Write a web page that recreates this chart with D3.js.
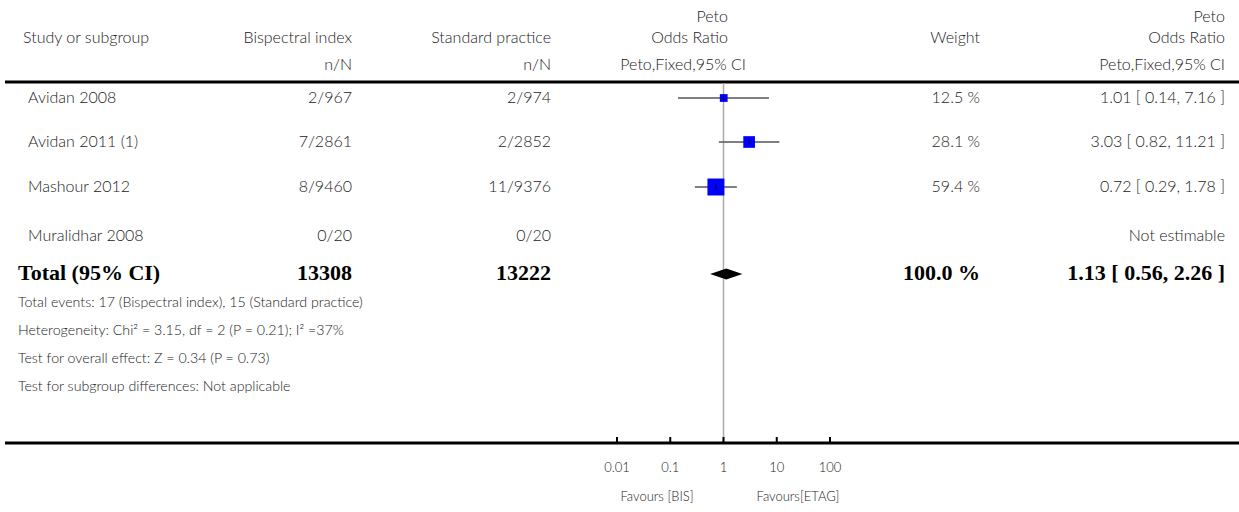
<!DOCTYPE html>
<html>
<head>
<meta charset="utf-8">
<script src="https://cdn.jsdelivr.net/npm/d3@7"></script>
<style>
  html, body { margin: 0; padding: 0; background: #fff; }
  svg { display: block; }
  .t { font-family: Lato, "Open Sans", sans-serif; font-size: 16px; font-weight: 300; fill: #222; }
  .f { font-family: Lato, "Open Sans", sans-serif; font-size: 14.2px; font-weight: 300; fill: #222; }
  .a { font-family: Lato, "Open Sans", sans-serif; font-size: 13px; font-weight: 300; fill: #222; }
  .b { font-family: "Liberation Serif", "Times New Roman", serif; font-size: 22px; font-weight: bold; fill: #000; }
</style>
</head>
<body>
<svg id="chart" width="1239" height="512"></svg>
<script>
// Study rows
const studies = ["Avidan 2008", "Avidan 2011 (1)", "Mashour 2012", "Muralidhar 2008"];
const bisEvents = [2, 7, 8, 0];
const bisTotal = [967, 2861, 9460, 20];
const stdEvents = [2, 2, 11, 0];
const stdTotal = [974, 2852, 9376, 20];
const oddsRatio = [1.01, 3.03, 0.72, null];
const ciLow = [0.14, 0.82, 0.29, null];
const ciHigh = [7.16, 11.21, 1.78, null];
const weights = [12.5, 28.1, 59.4, null];

// Pooled result
const totalBis = 13308;
const totalStd = 13222;
const totalWeight = 100.0;
const totalOR = 1.13;
const totalLow = 0.56;
const totalHigh = 2.26;

// Axis
const tickValues = [0.01, 0.1, 1, 10, 100];
const tickLabels = ["0.01", "0.1", "1", "10", "100"];
const favourLabels = ["Favours [BIS]", "Favours[ETAG]"];

const footnotes = [
  "Total events: 17 (Bispectral index), 15 (Standard practice)",
  "Heterogeneity: Chi\u00B2 = 3.15, df = 2 (P = 0.21); I\u00B2 =37%",
  "Test for overall effect: Z = 0.34 (P = 0.73)",
  "Test for subgroup differences: Not applicable"
];

const svg = d3.select("#chart");

// column anchors
const colName = 28, colBis = 352, colStd = 551, colWeight = 980, colCI = 1225;
const rowY = [98, 142, 187, 236];
const totalY = 274;
const topRule = 82, axisY = 443;

const x = d3.scaleLog().domain([0.01, 100]).range([617, 830]);
const boxSize = d3.scaleSqrt().domain([0, 100]).range([0, 22]);

function text(s, xx, yy, anchor, cls) {
  return svg.append("text").attr("class", cls || "t")
    .attr("x", xx).attr("y", yy).attr("text-anchor", anchor || "start").text(s);
}

// header
text("Study or subgroup", 23, 43);
text("Bispectral index", colBis, 43, "end");
text("n/N", colBis, 70, "end");
text("Standard practice", colStd, 43, "end");
text("n/N", colStd, 70, "end");
text("Peto", 728, 22, "end");
text("Odds Ratio", 728, 43, "end");
text("Peto,Fixed,95% CI", 746, 70, "end");
text("Weight", colWeight, 43, "end");
text("Peto", colCI, 22, "end");
text("Odds Ratio", colCI, 43, "end");
text("Peto,Fixed,95% CI", colCI, 70, "end");

// rules
svg.append("line").attr("x1", 5).attr("x2", 1239).attr("y1", topRule).attr("y2", topRule)
  .attr("stroke", "#000").attr("stroke-width", 3);

// line of no effect
svg.append("line").attr("x1", x(1)).attr("x2", x(1)).attr("y1", topRule + 1).attr("y2", axisY)
  .attr("stroke", "#aaa").attr("stroke-width", 1.5);

// study rows
studies.forEach((s, i) => {
  const y = rowY[i];
  text(s, colName, y + 5);
  text(bisEvents[i] + "/" + bisTotal[i], colBis, y + 5, "end");
  text(stdEvents[i] + "/" + stdTotal[i], colStd, y + 5, "end");
  if (oddsRatio[i] == null) {
    text("Not estimable", colCI, y + 5, "end");
    return;
  }
  text(weights[i].toFixed(1) + " %", colWeight, y + 5, "end");
  text(oddsRatio[i].toFixed(2) + " [ " + ciLow[i].toFixed(2) + ", " + ciHigh[i].toFixed(2) + " ]", colCI, y + 5, "end");
  svg.append("line").attr("x1", x(ciLow[i])).attr("x2", x(ciHigh[i])).attr("y1", y).attr("y2", y)
    .attr("stroke", "#555").attr("stroke-width", 1.5);
  const sz = boxSize(weights[i]);
  svg.append("rect").attr("x", x(oddsRatio[i]) - sz / 2).attr("y", y - sz / 2)
    .attr("width", sz).attr("height", sz).attr("fill", "#0000ff");
  svg.append("line").attr("x1", x(oddsRatio[i])).attr("x2", x(oddsRatio[i]))
    .attr("y1", y - 2.5).attr("y2", y + 2.5).attr("stroke", "#000").attr("stroke-width", 1);
});

// total row
text("Total (95% CI)", 18, totalY + 6, "start", "b");
text(String(totalBis), colBis, totalY + 6, "end", "b");
text(String(totalStd), colStd, totalY + 6, "end", "b");
text(totalWeight.toFixed(1) + " %", colWeight, totalY + 6, "end", "b");
text(totalOR.toFixed(2) + " [ " + totalLow.toFixed(2) + ", " + totalHigh.toFixed(2) + " ]", colCI, totalY + 6, "end", "b");
const dh = 5.5;
svg.append("path")
  .attr("d", `M${x(totalLow)},${totalY} L${x(totalOR)},${totalY - dh} L${x(totalHigh)},${totalY} L${x(totalOR)},${totalY + dh} Z`)
  .attr("fill", "#000");

// footnotes
footnotes.forEach((f, i) => text(f, 18, 307 + i * 28, "start", "f"));

// axis
svg.append("line").attr("x1", 5).attr("x2", 1239).attr("y1", axisY).attr("y2", axisY)
  .attr("stroke", "#000").attr("stroke-width", 3);
tickValues.forEach((v, i) => {
  svg.append("line").attr("x1", x(v)).attr("x2", x(v)).attr("y1", axisY - 6).attr("y2", axisY)
    .attr("stroke", "#000").attr("stroke-width", 2);
  text(tickLabels[i], x(v), 472, "middle", "a");
});
text(favourLabels[0], 657, 501, "middle", "a");
text(favourLabels[1], 798, 501, "middle", "a");
</script>
</body>
</html>
